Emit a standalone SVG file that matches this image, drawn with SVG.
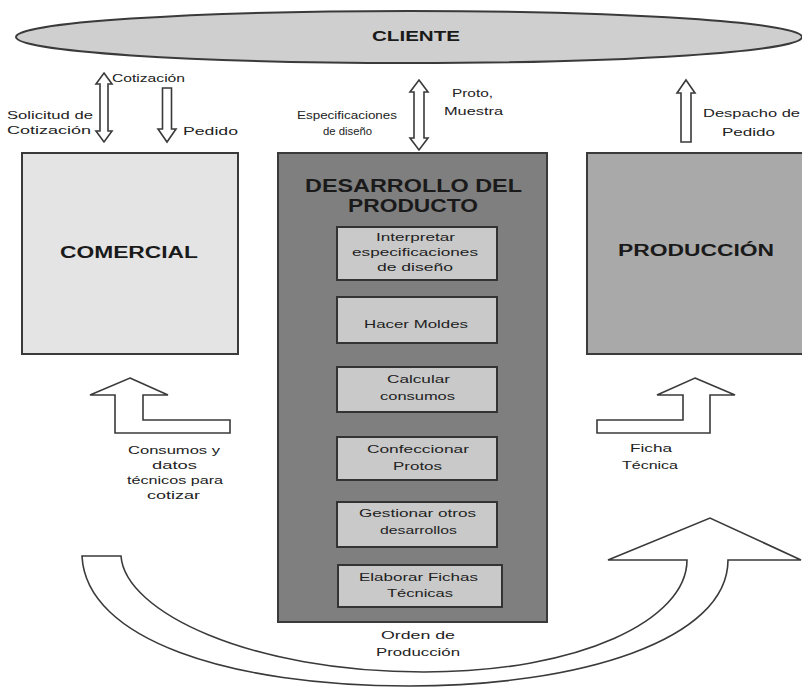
<svg xmlns="http://www.w3.org/2000/svg" width="802" height="687" viewBox="0 0 802 687">
<style>
  .lbl { font-family: "Liberation Sans", Arial, sans-serif; font-size: 11px; fill: #222; }
  .ttl { font-family: "Liberation Sans", Arial, sans-serif; font-weight: bold; fill: #1a1a1a; }
  .box { stroke: #3a3a3a; stroke-width: 2; }
  .inner { fill: #c9c9c9; stroke: #333; stroke-width: 2; }
  .arrow { fill: #fff; stroke: #3a3a3a; stroke-width: 1.6; stroke-linejoin: miter; }
</style>
<rect width="802" height="687" fill="#fff"/>

<g id="cliente">
  <ellipse cx="409" cy="37" rx="393" ry="26" fill="#cfcfcf" stroke="#3a3a3a" stroke-width="2"/>
  <text class="ttl" x="372" y="41" font-size="15" textLength="88" lengthAdjust="spacingAndGlyphs">CLIENTE</text>
</g>

<g id="comercial">
  <rect class="box" x="22" y="153" width="216" height="201" fill="#e4e4e4"/>
  <text class="ttl" x="60" y="258" font-size="16" textLength="138" lengthAdjust="spacingAndGlyphs">COMERCIAL</text>
</g>

<g id="produccion">
  <rect class="box" x="587" y="153" width="220" height="201" fill="#a9a9a9"/>
  <text class="ttl" x="618" y="256" font-size="16" textLength="156" lengthAdjust="spacingAndGlyphs">PRODUCCIÓN</text>
</g>

<g id="desarrollo">
  <rect class="box" x="278" y="153" width="269" height="469" fill="#7f7f7f"/>
  <text class="ttl" x="305" y="192" font-size="18" textLength="217" lengthAdjust="spacingAndGlyphs">DESARROLLO DEL</text>
  <text class="ttl" x="348" y="212" font-size="18" textLength="130" lengthAdjust="spacingAndGlyphs">PRODUCTO</text>
</g>

<g id="interpretar">
  <rect class="inner" x="337" y="227" width="160" height="53"/>
  <text class="lbl" x="376" y="241" textLength="79" lengthAdjust="spacingAndGlyphs">Interpretar</text>
  <text class="lbl" x="352" y="256" textLength="126" lengthAdjust="spacingAndGlyphs">especificaciones</text>
  <text class="lbl" x="377" y="271" textLength="76" lengthAdjust="spacingAndGlyphs">de diseño</text>
</g>
<g id="moldes">
  <rect class="inner" x="337" y="297" width="160" height="46"/>
  <text class="lbl" x="364" y="328" textLength="104" lengthAdjust="spacingAndGlyphs">Hacer Moldes</text>
</g>
<g id="calcular">
  <rect class="inner" x="337" y="367" width="160" height="45"/>
  <text class="lbl" x="387" y="383" textLength="63" lengthAdjust="spacingAndGlyphs">Calcular</text>
  <text class="lbl" x="380" y="400" textLength="75" lengthAdjust="spacingAndGlyphs">consumos</text>
</g>
<g id="confeccionar">
  <rect class="inner" x="337" y="437" width="160" height="43"/>
  <text class="lbl" x="367" y="453" textLength="102" lengthAdjust="spacingAndGlyphs">Confeccionar</text>
  <text class="lbl" x="393" y="470" textLength="49" lengthAdjust="spacingAndGlyphs">Protos</text>
</g>
<g id="gestionar">
  <rect class="inner" x="337" y="502" width="160" height="45"/>
  <text class="lbl" x="359" y="517" textLength="117" lengthAdjust="spacingAndGlyphs">Gestionar otros</text>
  <text class="lbl" x="380" y="534" textLength="77" lengthAdjust="spacingAndGlyphs">desarrollos</text>
</g>
<g id="fichas">
  <rect class="inner" x="338" y="565" width="164" height="42"/>
  <text class="lbl" x="359" y="581" textLength="119" lengthAdjust="spacingAndGlyphs">Elaborar Fichas</text>
  <text class="lbl" x="387" y="597" textLength="66" lengthAdjust="spacingAndGlyphs">Técnicas</text>
</g>

<g id="connectors">
  <!-- Solicitud / Cotización double arrow -->
  <path class="arrow" d="M104,73 L112,84 L108,84 L108,131 L112,131 L104,142 L96,131 L100,131 L100,84 L96,84 Z"/>
  <text class="lbl" x="112" y="82" textLength="73" lengthAdjust="spacingAndGlyphs">Cotización</text>
  <text class="lbl" x="7" y="119" textLength="86" lengthAdjust="spacingAndGlyphs">Solicitud de</text>
  <text class="lbl" x="7" y="134" textLength="84" lengthAdjust="spacingAndGlyphs">Cotización</text>
  <!-- Pedido -->
  <path class="arrow" d="M162.5,88 L171.5,88 L171.5,129 L176,129 L167,142 L158,129 L162.5,129 Z"/>
  <text class="lbl" x="183" y="135" textLength="55" lengthAdjust="spacingAndGlyphs">Pedido</text>
  <!-- Especificaciones / Proto -->
  <path class="arrow" d="M419,80 L428,92 L424,92 L424,138 L428,138 L419,150 L410,138 L414,138 L414,92 L410,92 Z"/>
  <text class="lbl" x="297" y="119" textLength="100" lengthAdjust="spacingAndGlyphs">Especificaciones</text>
  <text class="lbl" x="323" y="135" textLength="49" lengthAdjust="spacingAndGlyphs">de diseño</text>
  <text class="lbl" x="452" y="97" textLength="41" lengthAdjust="spacingAndGlyphs">Proto,</text>
  <text class="lbl" x="444" y="115" textLength="59" lengthAdjust="spacingAndGlyphs">Muestra</text>
  <!-- Despacho de Pedido -->
  <path class="arrow" d="M686,80 L695,93 L691,93 L691,142 L681,142 L681,93 L677,93 Z"/>
  <text class="lbl" x="703" y="117" textLength="97" lengthAdjust="spacingAndGlyphs">Despacho de</text>
  <text class="lbl" x="722" y="136" textLength="53" lengthAdjust="spacingAndGlyphs">Pedido</text>
  <!-- Consumos y datos técnicos -->
  <path class="arrow" d="M130,378 L168,395 L143,395 L143,420 L230,420 L230,433 L115,433 L115,395 L90,395 Z"/>
  <text class="lbl" x="128" y="454" textLength="92" lengthAdjust="spacingAndGlyphs">Consumos y</text>
  <text class="lbl" x="152" y="469" textLength="45" lengthAdjust="spacingAndGlyphs">datos</text>
  <text class="lbl" x="127" y="484" textLength="96" lengthAdjust="spacingAndGlyphs">técnicos para</text>
  <text class="lbl" x="147" y="499" textLength="53" lengthAdjust="spacingAndGlyphs">cotizar</text>
  <!-- Ficha Técnica -->
  <path class="arrow" d="M695,378 L735,395 L710,395 L710,433 L597,433 L597,420 L683,420 L683,395 L657,395 Z"/>
  <text class="lbl" x="630" y="452" textLength="42" lengthAdjust="spacingAndGlyphs">Ficha</text>
  <text class="lbl" x="622" y="469" textLength="56" lengthAdjust="spacingAndGlyphs">Técnica</text>
  <!-- Orden de Producción -->
  <path class="arrow" d="M82,556 L121,556 C125,612 250,672 424,672 C580,672 687,620 687,560 L608,560 L710,518 L801,560 L728,560 C728,640 580,686 409,686 C230,686 86,640 82,556 Z"/>
  <text class="lbl" x="381" y="639" textLength="74" lengthAdjust="spacingAndGlyphs">Orden de</text>
  <text class="lbl" x="376" y="656" textLength="84" lengthAdjust="spacingAndGlyphs">Producción</text>
</g>
</svg>
